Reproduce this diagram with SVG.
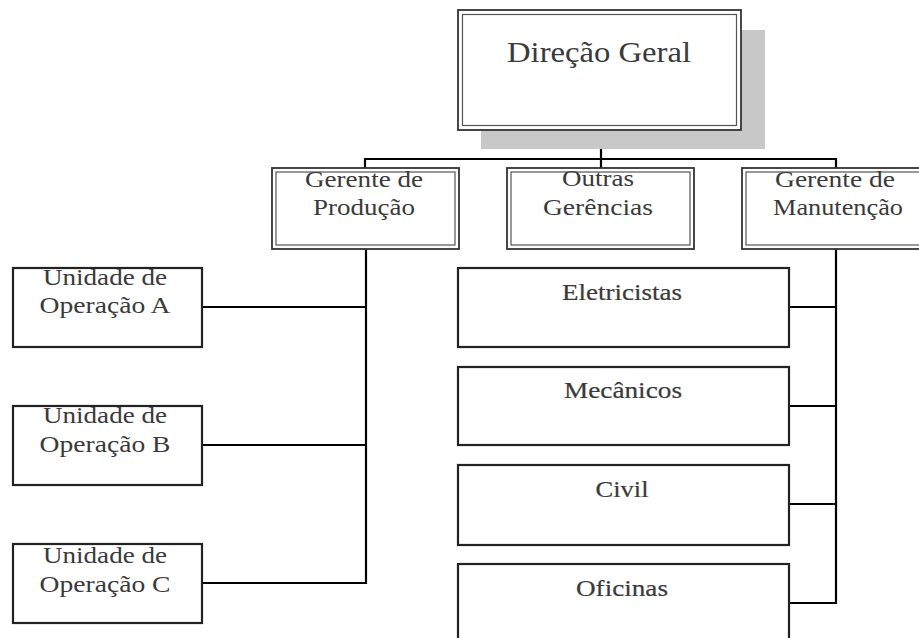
<svg xmlns="http://www.w3.org/2000/svg" width="919" height="638" viewBox="0 0 919 638">
<style>
.t{font-family:"Liberation Serif","Times New Roman",serif;font-size:23px;fill:#3a3a3a;text-anchor:middle}
.s{stroke:#3a3a3a;stroke-width:0.2}
.b{fill:#fff;stroke:#222;stroke-width:2.2}
.d1{fill:#fff;stroke:#333;stroke-width:1.8}
.d2{fill:none;stroke:#555;stroke-width:1.2}
.c{fill:none;stroke:#000;stroke-width:2.2}
</style>
<rect width="919" height="638" fill="#fff"/>
<g id="connectors">
<path class="c" d="M601 130V168M365 168V159H836V168"/>
<path class="c" d="M366 249V583H202M202 307H366M202 445H366"/>
<path class="c" d="M836 249V603H789M789 307H836M789 406H836M789 504H836"/>
</g>
<g id="direcao">
<rect x="481" y="30" width="284" height="119" fill="#c8c8c8"/>
<rect class="d1" x="458" y="10" width="283" height="120"/>
<rect class="d2" x="462.5" y="14.5" width="274" height="111"/>
<text class="t" x="599" y="62" style="font-size:29px" textLength="184" lengthAdjust="spacingAndGlyphs">Direção Geral</text>
</g>
<g id="producao">
<rect class="d1" x="272" y="168" width="187" height="81"/>
<rect class="d2" x="276" y="172" width="179" height="73"/>
<text class="t" x="364" y="187" textLength="118" lengthAdjust="spacingAndGlyphs">Gerente de</text>
<text class="t" x="364" y="215" textLength="102" lengthAdjust="spacingAndGlyphs">Produção</text>
</g>
<g id="outras">
<rect class="d1" x="507" y="168" width="187" height="81"/>
<rect class="d2" x="511" y="172" width="179" height="73"/>
<text class="t" x="598" y="186" textLength="72" lengthAdjust="spacingAndGlyphs">Outras</text>
<text class="t" x="598" y="215" textLength="110" lengthAdjust="spacingAndGlyphs">Gerências</text>
</g>
<g id="manutencao">
<rect class="d1" x="742" y="168" width="187" height="81"/>
<rect class="d2" x="746" y="172" width="179" height="73"/>
<text class="t" x="835" y="187" textLength="120" lengthAdjust="spacingAndGlyphs">Gerente de</text>
<text class="t" x="838" y="215" textLength="130" lengthAdjust="spacingAndGlyphs">Manutenção</text>
</g>
<g id="unidadeA">
<rect class="b" x="13" y="268" width="189" height="79"/>
<text class="t" x="105" y="285" textLength="124" lengthAdjust="spacingAndGlyphs">Unidade de</text>
<text class="t" x="105" y="313" textLength="131" lengthAdjust="spacingAndGlyphs">Operação A</text>
</g>
<g id="unidadeB">
<rect class="b" x="13" y="406" width="189" height="79"/>
<text class="t" x="105" y="423" textLength="124" lengthAdjust="spacingAndGlyphs">Unidade de</text>
<text class="t" x="105" y="452" textLength="131" lengthAdjust="spacingAndGlyphs">Operação B</text>
</g>
<g id="unidadeC">
<rect class="b" x="13" y="544" width="189" height="79"/>
<text class="t" x="105" y="563" textLength="124" lengthAdjust="spacingAndGlyphs">Unidade de</text>
<text class="t" x="105" y="592" textLength="131" lengthAdjust="spacingAndGlyphs">Operação C</text>
</g>
<g id="eletricistas">
<rect class="b" x="458" y="268" width="331" height="79"/>
<text class="t s" x="622" y="300" textLength="120" lengthAdjust="spacingAndGlyphs">Eletricistas</text>
</g>
<g id="mecanicos">
<rect class="b" x="458" y="367" width="331" height="78"/>
<text class="t s" x="623" y="398" textLength="118" lengthAdjust="spacingAndGlyphs">Mecânicos</text>
</g>
<g id="civil">
<rect class="b" x="458" y="465" width="331" height="80"/>
<text class="t s" x="622" y="497" textLength="53" lengthAdjust="spacingAndGlyphs">Civil</text>
</g>
<g id="oficinas">
<rect class="b" x="458" y="564" width="331" height="90"/>
<text class="t s" x="622" y="596" textLength="92" lengthAdjust="spacingAndGlyphs">Oficinas</text>
</g>
</svg>
